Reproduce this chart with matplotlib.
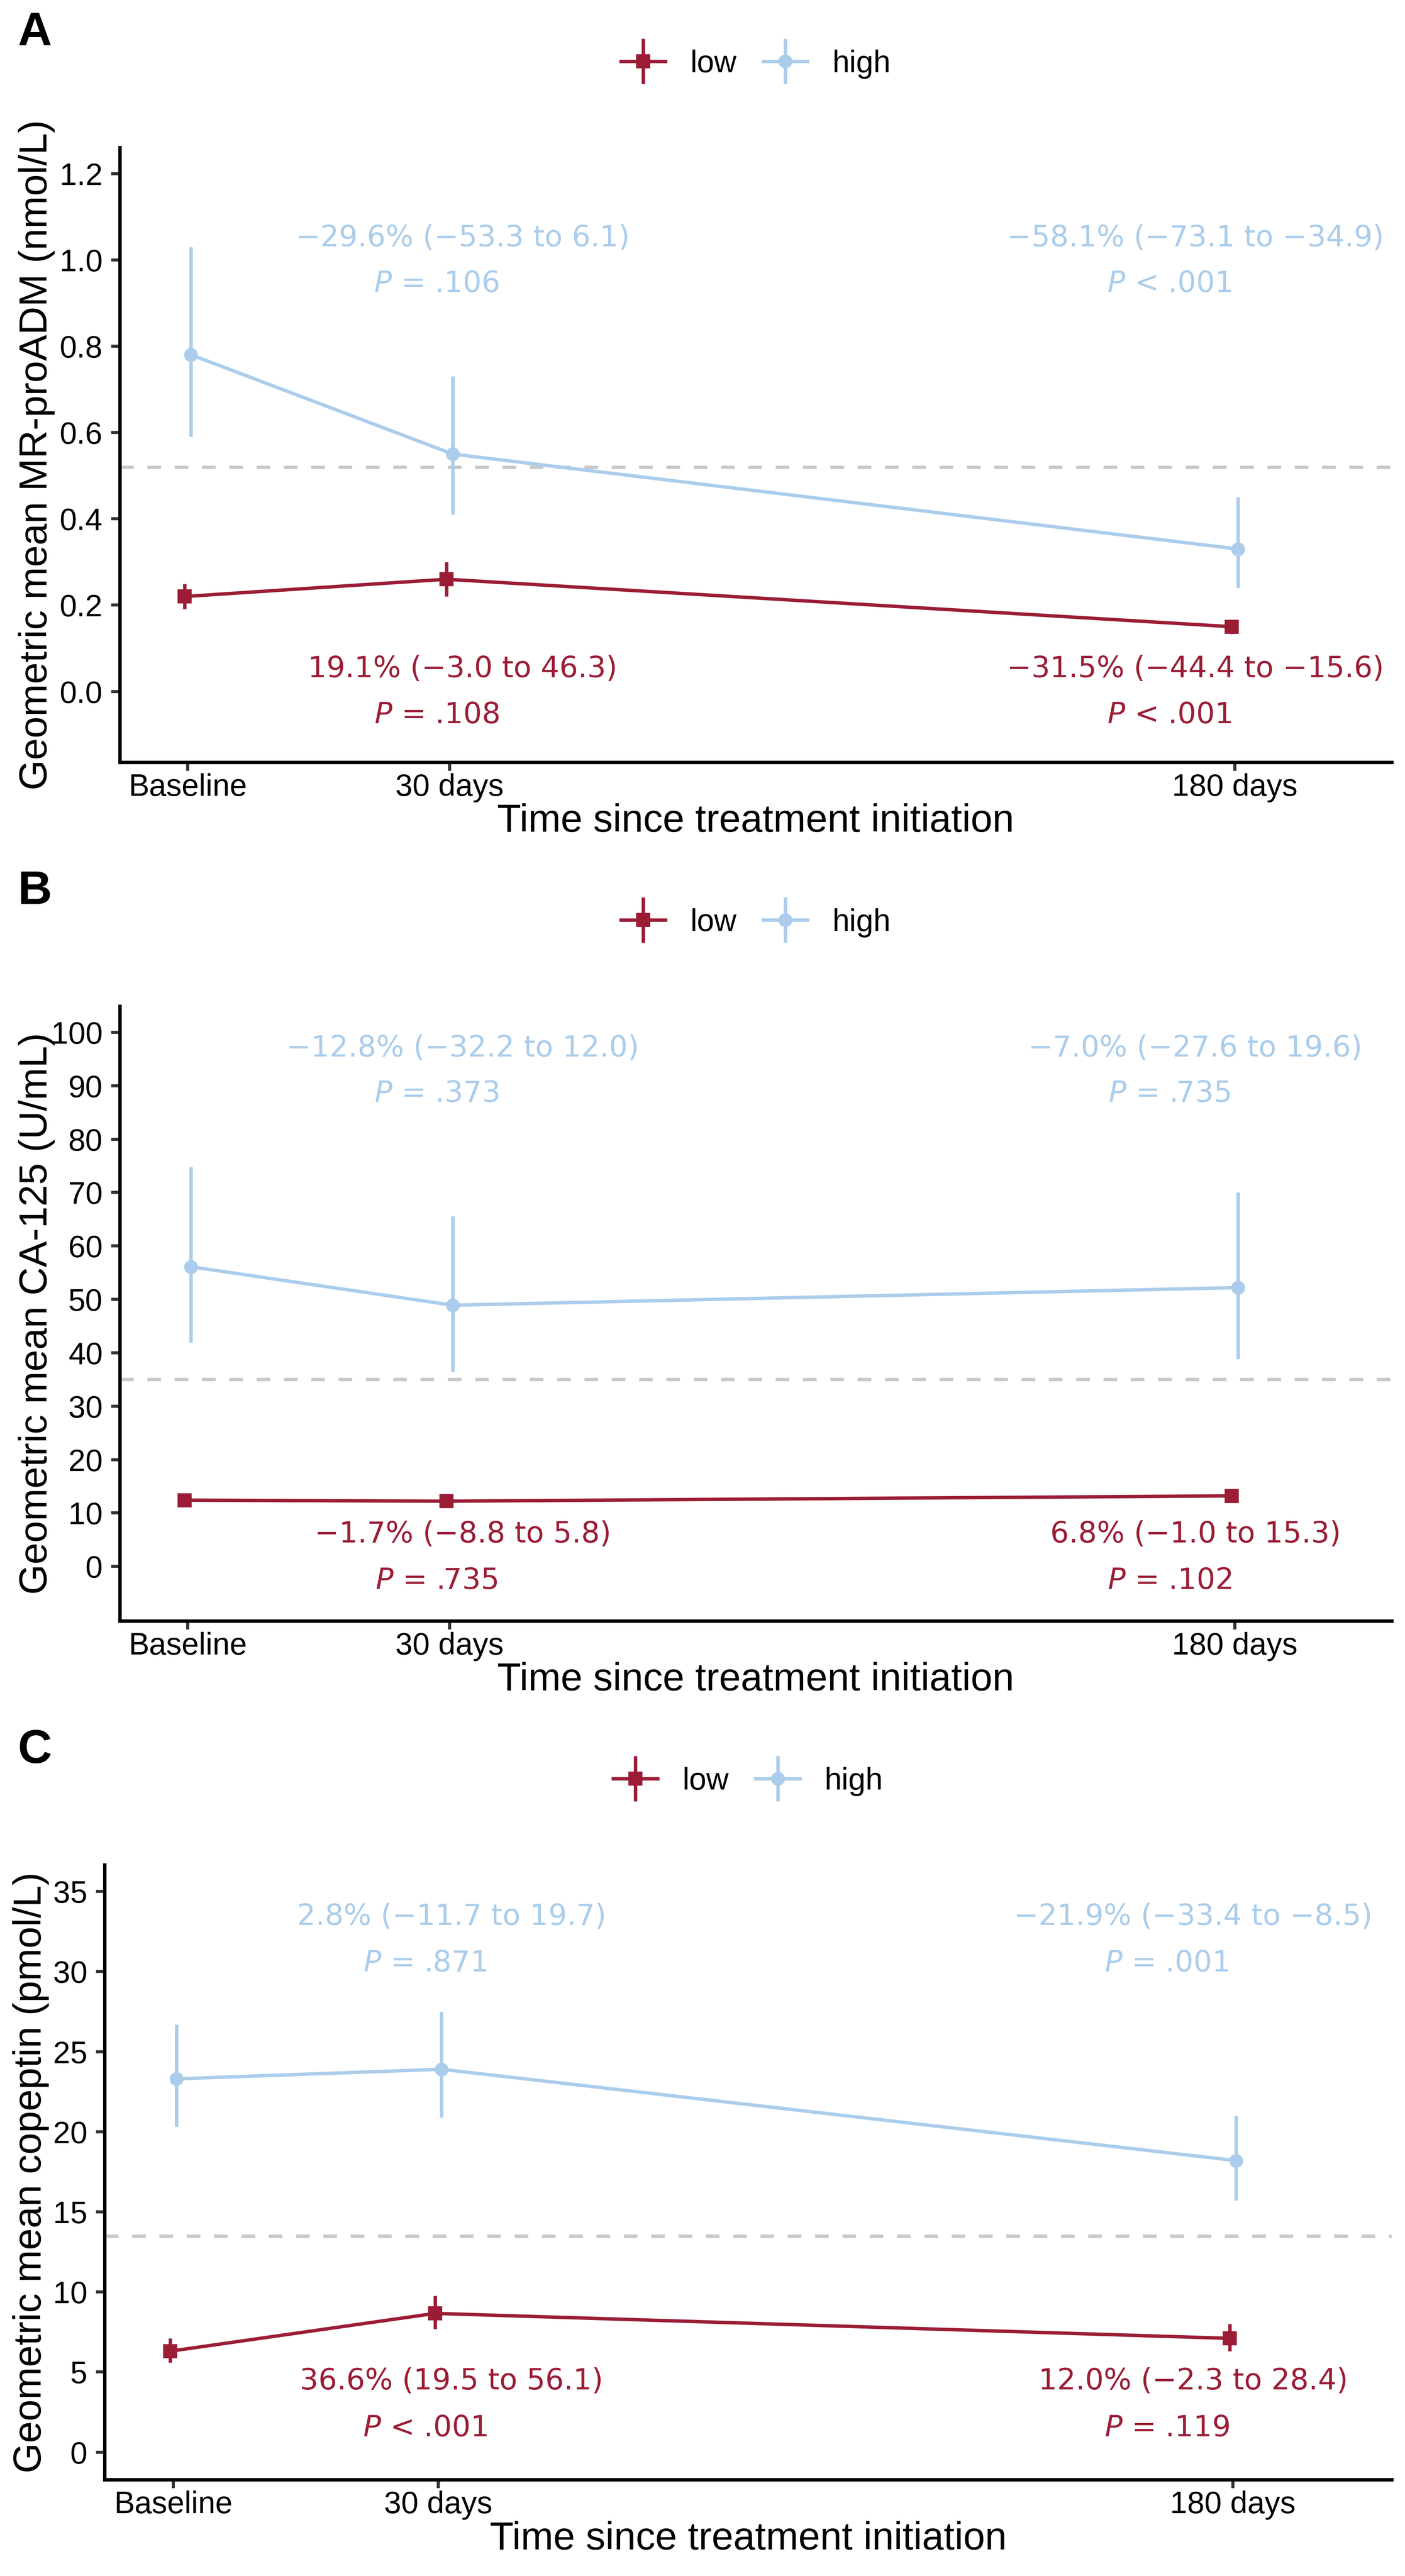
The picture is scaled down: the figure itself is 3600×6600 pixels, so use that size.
import matplotlib
matplotlib.use("Agg")
import matplotlib.pyplot as plt
from matplotlib.container import ErrorbarContainer
from matplotlib.legend_handler import HandlerErrorbar

plt.rcParams["font.family"] = ["Liberation Sans", "DejaVu Sans"]
plt.rcParams["mathtext.fontset"] = "dejavusans"

# Data
time_labels = ["Baseline", "30 days", "180 days"]
time_pos = [0, 1, 4]

# A: MR-proADM (nmol/L)
adm_low = [0.22, 0.26, 0.15]
adm_low_lo = [0.191, 0.22, 0.133]
adm_low_hi = [0.249, 0.30, 0.166]
adm_high = [0.78, 0.55, 0.33]
adm_high_lo = [0.59, 0.41, 0.24]
adm_high_hi = [1.03, 0.73, 0.45]
adm_cut = 0.52
adm_ticks = [0.0, 0.2, 0.4, 0.6, 0.8, 1.0, 1.2]
adm_txt_high = ["−29.6% (−53.3 to 6.1)", "−58.1% (−73.1 to −34.9)"]
adm_p_high = ["= .106", "< .001"]
adm_txt_low = ["19.1% (−3.0 to 46.3)", "−31.5% (−44.4 to −15.6)"]
adm_p_low = ["= .108", "< .001"]

# B: CA-125 (U/mL)
ca_low = [12.4, 12.2, 13.2]
ca_low_lo = [11.6, 11.4, 12.3]
ca_low_hi = [13.3, 13.1, 14.2]
ca_high = [56.1, 48.9, 52.2]
ca_high_lo = [41.9, 36.4, 38.8]
ca_high_hi = [74.8, 65.6, 70.0]
ca_cut = 35
ca_ticks = [0, 10, 20, 30, 40, 50, 60, 70, 80, 90, 100]
ca_txt_high = ["−12.8% (−32.2 to 12.0)", "−7.0% (−27.6 to 19.6)"]
ca_p_high = ["= .373", "= .735"]
ca_txt_low = ["−1.7% (−8.8 to 5.8)", "6.8% (−1.0 to 15.3)"]
ca_p_low = ["= .735", "= .102"]

# C: copeptin (pmol/L)
cop_low = [6.3, 8.66, 7.1]
cop_low_lo = [5.6, 7.7, 6.3]
cop_low_hi = [7.1, 9.76, 8.0]
cop_high = [23.3, 23.9, 18.2]
cop_high_lo = [20.3, 20.9, 15.7]
cop_high_hi = [26.7, 27.5, 21.0]
cop_cut = 13.5
cop_ticks = [0, 5, 10, 15, 20, 25, 30, 35]
cop_txt_high = ["2.8% (−11.7 to 19.7)", "−21.9% (−33.4 to −8.5)"]
cop_p_high = ["= .871", "= .001"]
cop_txt_low = ["36.6% (19.5 to 56.1)", "12.0% (−2.3 to 28.4)"]
cop_p_low = ["< .001", "= .119"]

RED = "#9B1D35"
BLUE = "#ABCDEB"

panels = [
    dict(letter="A", ylabel="Geometric mean MR-proADM (nmol/L)",
         low=(adm_low, adm_low_lo, adm_low_hi), high=(adm_high, adm_high_lo, adm_high_hi),
         cut=adm_cut, ticks=adm_ticks, fmt="{:.1f}", ylim=(-0.164, 1.26),
         txt_high=adm_txt_high, p_high=adm_p_high, txt_low=adm_txt_low, p_low=adm_p_low,
         y_high=(1.05, 0.944), y_low=(0.052, -0.055),
         rect=[0.0853, 0.7041, 0.9053, 0.2386], top=0, ylab_x=-0.051),
    dict(letter="B", ylabel="Geometric mean CA-125 (U/mL)",
         low=(ca_low, ca_low_lo, ca_low_hi), high=(ca_high, ca_high_lo, ca_high_hi),
         cut=ca_cut, ticks=ca_ticks, fmt="{:.0f}", ylim=(-10.2, 104.9),
         txt_high=ca_txt_high, p_high=ca_p_high, txt_low=ca_txt_low, p_low=ca_p_low,
         y_high=(97.0, 88.5), y_low=(6.0, -2.7),
         rect=[0.0853, 0.3708, 0.9053, 0.2386], top=2200, ylab_x=-0.051),
    dict(letter="C", ylabel="Geometric mean copeptin (pmol/L)",
         low=(cop_low, cop_low_lo, cop_low_hi), high=(cop_high, cop_high_lo, cop_high_hi),
         cut=cop_cut, ticks=cop_ticks, fmt="{:.0f}", ylim=(-1.72, 36.65),
         txt_high=cop_txt_high, p_high=cop_p_high, txt_low=cop_txt_low, p_low=cop_p_low,
         y_high=(33.4, 30.5), y_low=(4.4, 1.5),
         rect=[0.0744, 0.0374, 0.9162, 0.2386], top=4400, ylab_x=-0.043),
]

H = 6600.0
fig = plt.figure(figsize=(12, 22), dpi=300)
ann = dict(fontsize=18, ha="center", va="center", family="DejaVu Sans")

for pn in panels:
    ax = fig.add_axes(pn["rect"])
    ax.axhline(pn["cut"], color="#C9C9C9", lw=2.1, ls=(0, (4, 4)), zorder=1)

    handles = []
    for key, col, mk, dx, lab in [("low", RED, "s", -0.012, "low"), ("high", BLUE, "o", 0.012, "high")]:
        y, lo, hi = pn[key]
        xs = [p + dx for p in time_pos]
        err = [[v - l for v, l in zip(y, lo)], [h - v for v, h in zip(y, hi)]]
        h = ax.errorbar(xs, y, yerr=err, fmt="-" + mk, color=col, lw=2.1, ms=7.5,
                        elinewidth=2.1, capsize=0, label=lab, zorder=3)
        handles.append(h)

    for i, xc in enumerate([1.05, 3.85]):
        ax.text(xc, pn["y_high"][0], pn["txt_high"][i], color=BLUE, **ann)
        ax.text(xc - 0.1, pn["y_high"][1], r"$\mathit{P}$ " + pn["p_high"][i],
                color=BLUE, **ann)
        ax.text(xc, pn["y_low"][0], pn["txt_low"][i], color=RED, **ann)
        ax.text(xc - 0.1, pn["y_low"][1], r"$\mathit{P}$ " + pn["p_low"][i],
                color=RED, **ann)

    ax.set_xlim(-0.26, 4.6)
    ax.set_ylim(*pn["ylim"])
    ax.set_xticks(time_pos)
    ax.set_xticklabels(time_labels)
    ax.set_yticks(pn["ticks"])
    ax.set_yticklabels([pn["fmt"].format(t) for t in pn["ticks"]])
    ax.tick_params(labelsize=19, length=5.3, width=1.9, color="#333333")
    ax.tick_params(axis="x", pad=1.5)
    ax.tick_params(axis="y", pad=5.3)
    for s in ["top", "right"]:
        ax.spines[s].set_visible(False)
    for s in ["left", "bottom"]:
        ax.spines[s].set_linewidth(2.1)
    ax.set_xlabel("Time since treatment initiation", fontsize=24, labelpad=0.5)
    ax.set_ylabel(pn["ylabel"], fontsize=24)
    ax.yaxis.set_label_coords(pn["ylab_x"], 0.5)

    x0, w = pn["rect"][0], pn["rect"][2]
    fig.legend(handles, ["low", "high"], loc="center", ncol=2, frameon=False,
               bbox_to_anchor=(x0 + w / 2, 1 - (pn["top"] + 164) / H), fontsize=19,
               handlelength=1.44, columnspacing=0.86, handletextpad=0.8,
               handler_map={ErrorbarContainer: HandlerErrorbar(xerr_size=0.73)})
    fig.text(46 / 3600, 1 - (pn["top"] + 85) / H, pn["letter"], fontsize=29,
             fontweight="bold", va="center", ha="left")

fig.savefig("out.png", dpi=300)
